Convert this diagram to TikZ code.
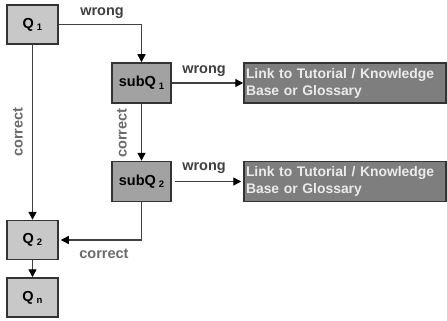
\documentclass[tikz,border=0pt]{standalone}
\usepackage{fontspec}
\setmainfont{Liberation Sans}
\usetikzlibrary{arrows.meta}
\definecolor{qfill}{HTML}{C8C8C8}
\definecolor{sfill}{HTML}{A2A2A2}
\definecolor{lfill}{HTML}{7E7E7E}
\definecolor{bord}{HTML}{333333}
\definecolor{wire}{HTML}{404040}
\definecolor{wtext}{HTML}{404040}
\definecolor{ctext}{HTML}{6A6A6A}
\newcommand{\sbs}[1]{\hspace{3pt}\raisebox{-0.3ex}{\fontsize{9.5}{10}\selectfont #1}}
\begin{document}
\begin{tikzpicture}[x=1pt,y=-1pt,
  box/.style={draw=bord,line width=1.5pt,font=\fontsize{14.5}{16}\selectfont\bfseries,inner sep=0pt},
  qbox/.style={box,fill=qfill,minimum width=51pt,minimum height=39pt},
  sbox/.style={box,fill=sfill,minimum width=59pt,minimum height=40pt},
  lbox/.style={box,fill=lfill,minimum width=202pt,minimum height=40pt,text=white!92!black,align=left,text width=198pt,font=\fontsize{13.9}{17}\selectfont\bfseries},
  conn/.style={draw=wire,line width=1.4pt,-{Triangle[length=8pt,width=8pt,fill=black,color=black]}},
  wlab/.style={text=wtext,font=\fontsize{14.5}{16}\selectfont\bfseries,inner sep=0pt},
  clab/.style={text=ctext,font=\fontsize{14.5}{16}\selectfont\bfseries,inner sep=0pt}]
\useasboundingbox (0,0) rectangle (447,321);
\node[qbox] (q1) at (32.5,24.5) {Q\sbs{1}};
\node[sbox] (s1) at (141.5,83) {subQ\sbs{1}};
\node[lbox] (l1) at (345,83) {Link to Tutorial / Knowledge\\Base or Glossary};
\node[sbox] (s2) at (141.5,181.5) {subQ\sbs{2}};
\node[lbox] (l2) at (345,181.5) {Link to Tutorial / Knowledge\\Base or Glossary};
\node[qbox] (q2) at (32.5,240) {Q\sbs{2}};
\node[qbox] (qn) at (32.5,297.5) {Q\sbs{n}};
\draw[conn] (q1.east) -| (s1.north);
\draw[conn] (s1.east) -- (l1.west);
\draw[conn] (s1.south) -- (s2.north);
\draw[conn,shorten <=3pt] (s2.east) -- ([xshift=-2pt]l2.west);
\draw[conn] (s2.south) |- ([xshift=2pt]q2.east);
\draw[conn] (q1.south) -- (q2.north);
\draw[conn] (q2.south) -- (qn.north);
\node[wlab] (w1) at (102,13) {wrong};
\node[wlab] (w2) at (204,71) {wrong};
\node[wlab] (w3) at (204,168) {wrong};
\node[clab,rotate=90] (c1) at (18,132) {correct};
\node[clab,rotate=90] (c2) at (122,133) {correct};
\node[clab] (c3) at (104,254) {correct};
\end{tikzpicture}
\end{document}
